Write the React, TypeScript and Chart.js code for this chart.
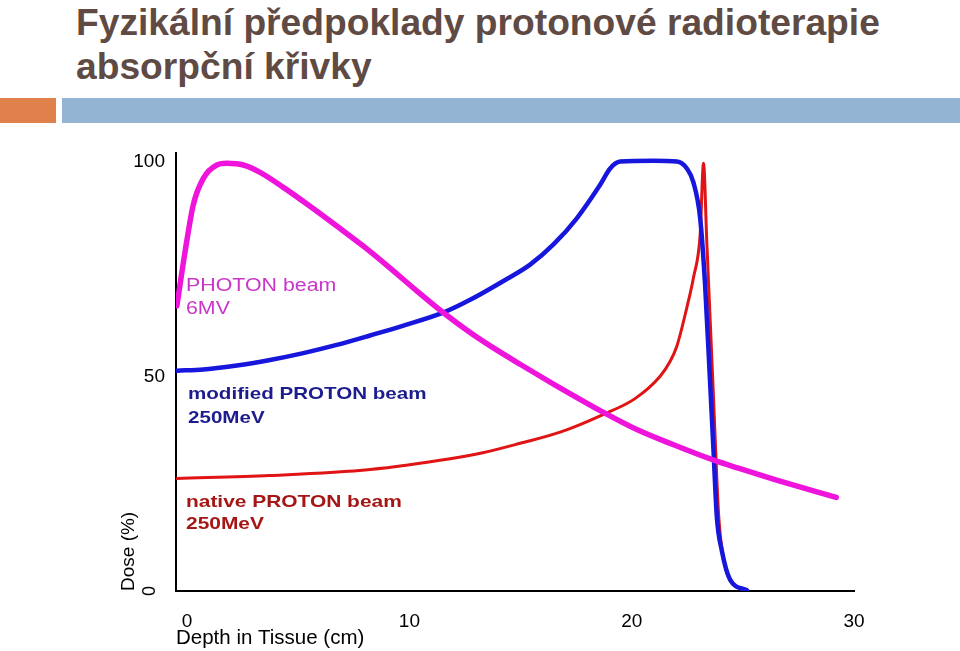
import React, { useEffect, useRef } from 'react';
import Chart from 'chart.js/auto';

const TITLE_LINES = ['Fyzikální předpoklady protonové radioterapie', 'absorpční křivky'];
const X_TITLE = 'Depth in Tissue (cm)';
const Y_TITLE = 'Dose (%)';
const X_TICKS = [0, 10, 20, 30];
const Y_TICKS = [0, 50, 100];
const X_MIN = -0.5;
const X_MAX = 30;
const Y_MIN = 0;
const Y_MAX = 102;

const SERIES_NAMES = ['PHOTON beam 6MV', 'modified PROTON beam 250MeV', 'native PROTON beam 250MeV'];
const PHOTON_LABEL = ['PHOTON beam', '6MV'];
const MODIFIED_LABEL = ['modified PROTON beam', '250MeV'];
const NATIVE_LABEL = ['native PROTON beam', '250MeV'];

const PHOTON_X = [-0.46, -0.09, 0.28, 0.73, 1.34, 1.79, 2.53, 3.28, 4.33, 5.53, 6.73, 7.93, 9.13, 10.33, 11.53, 12.73, 13.6, 14.98, 16.48, 18.73, 20.23, 21.91, 23.73, 24.8, 26.48, 29.2];
const PHOTON_Y = [66.4, 79.1, 90.0, 96.1, 99.2, 99.6, 99.2, 97.5, 94.0, 89.6, 85.0, 80.3, 75.2, 69.9, 64.8, 60.2, 57.2, 52.8, 48.2, 41.6, 37.6, 34.0, 30.4, 28.6, 25.9, 21.8];

const MODIFIED_X = [-0.46, 0.73, 2.24, 3.73, 5.23, 6.73, 8.23, 9.73, 11.6, 12.73, 14.23, 15.43, 16.48, 17.53, 18.58, 19.03, 19.48, 20.98, 22.03, 22.48, 22.78, 23.08, 23.3, 23.53, 23.68, 23.83, 24.05, 24.43, 25.18];
const MODIFIED_Y = [51.3, 51.6, 52.5, 53.8, 55.4, 57.3, 59.5, 61.8, 65.0, 67.8, 72.2, 76.0, 80.7, 86.8, 94.6, 98.4, 100.0, 100.2, 100.0, 98.4, 95.1, 86.8, 71.4, 48.2, 32.7, 17.2, 9.5, 2.6, 0.2];

const NATIVE_X = [-0.45, 3.73, 8.23, 11.83, 13.3, 14.98, 16.78, 18.71, 20.15, 21.28, 21.73, 22.03, 22.48, 22.78, 23.08, 23.23, 23.38, 23.53, 23.68, 23.83, 23.92, 24.1, 24.5, 25.2];
const NATIVE_Y = [26.2, 26.9, 28.3, 30.8, 32.2, 34.4, 37.0, 41.1, 44.8, 50.0, 53.5, 57.0, 66.0, 73.0, 83.0, 99.6, 81.0, 63.0, 45.0, 26.0, 17.0, 8.4, 2.1, 0.2];

const CANVAS_TOP = 130;
const FONT = '"Liberation Sans", Arial, Helvetica, sans-serif';

const toPoints = (xs: number[], ys: number[]) => xs.map((x, i) => ({ x, y: ys[i] }));

const drawStretched = (ctx: CanvasRenderingContext2D, text: string, x: number, y: number, font: string, color: string, sx: number) => {
  ctx.save();
  ctx.translate(x, y);
  ctx.scale(sx, 1);
  ctx.font = font;
  ctx.fillStyle = color;
  ctx.textAlign = 'left';
  ctx.textBaseline = 'alphabetic';
  ctx.fillText(text, 0, 0);
  ctx.restore();
};

const annotationPlugin = {
  id: 'curveLabels',
  afterDraw(chart: any) {
    const ctx: CanvasRenderingContext2D = chart.ctx;
    const left = chart.chartArea.left;
    const regular = `17.5px ${FONT}`;
    const bold = `bold 17px ${FONT}`;
    const magenta = '#c936c9';
    const navy = '#1c1c8e';
    const darkRed = '#a51616';
    drawStretched(ctx, PHOTON_LABEL[0], left + 10, 290.7 - CANVAS_TOP, regular, magenta, 1.22);
    drawStretched(ctx, PHOTON_LABEL[1], left + 10, 314 - CANVAS_TOP, regular, magenta, 1.22);
    drawStretched(ctx, MODIFIED_LABEL[0], left + 12, 399.3 - CANVAS_TOP, bold, navy, 1.21);
    drawStretched(ctx, MODIFIED_LABEL[1], left + 12, 423.3 - CANVAS_TOP, bold, navy, 1.21);
    drawStretched(ctx, NATIVE_LABEL[0], left + 10, 507.3 - CANVAS_TOP, bold, darkRed, 1.23);
    drawStretched(ctx, NATIVE_LABEL[1], left + 10, 529.3 - CANVAS_TOP, bold, darkRed, 1.23);

    // rotated zero tick label on the y axis
    const yScale = chart.scales.y;
    const y0 = yScale.getPixelForValue(Y_TICKS[0]);
    ctx.save();
    ctx.translate(left - 26, y0);
    ctx.rotate(-Math.PI / 2);
    ctx.font = `18px ${FONT}`;
    ctx.fillStyle = '#000';
    ctx.textAlign = 'center';
    ctx.textBaseline = 'middle';
    ctx.fillText(String(Y_TICKS[0]), 0, 0);
    ctx.restore();
  },
};

function DoseChart() {
  const ref = useRef<HTMLCanvasElement | null>(null);
  useEffect(() => {
    if (!ref.current) return;
    const chart = new Chart(ref.current, {
      type: 'line',
      data: {
        datasets: [
          {
            label: SERIES_NAMES[0],
            data: toPoints(PHOTON_X, PHOTON_Y),
            borderColor: '#ee14dc',
            borderWidth: 5.5,
            cubicInterpolationMode: 'monotone',
            borderCapStyle: 'round',
            borderJoinStyle: 'round',
            pointRadius: 0,
            fill: false,
          },
          {
            label: SERIES_NAMES[1],
            data: toPoints(MODIFIED_X, MODIFIED_Y),
            borderColor: '#1616dc',
            borderWidth: 4.5,
            cubicInterpolationMode: 'monotone',
            borderCapStyle: 'round',
            borderJoinStyle: 'round',
            pointRadius: 0,
            fill: false,
          },
          {
            label: SERIES_NAMES[2],
            data: toPoints(NATIVE_X, NATIVE_Y),
            borderColor: '#e01414',
            borderWidth: 3,
            cubicInterpolationMode: 'monotone',
            borderCapStyle: 'round',
            borderJoinStyle: 'miter',
            pointRadius: 0,
            fill: false,
          },
        ],
      },
      options: {
        responsive: false,
        animation: false,
        layout: { padding: { top: 23, right: 106, bottom: 0, left: 0 } },
        plugins: { legend: { display: false }, tooltip: { enabled: false } },
        scales: {
          x: {
            type: 'linear',
            min: X_MIN,
            max: X_MAX,
            afterBuildTicks: (s: any) => {
              s.ticks = X_TICKS.map((v) => ({ value: v }));
            },
            afterFit: (s: any) => {
              s.height = 60;
            },
            grid: { display: false, drawTicks: false },
            border: { display: true, color: '#000', width: 2 },
            ticks: {
              padding: 19,
              color: '#000',
              maxRotation: 0,
              autoSkip: false,
              font: { family: FONT, size: 19 },
            },
            title: {
              display: true,
              text: X_TITLE,
              align: 'start',
              color: '#000',
              font: { family: FONT, size: 20.5 },
              padding: { top: 0, bottom: 0 },
            },
          },
          y: {
            type: 'linear',
            min: Y_MIN,
            max: Y_MAX,
            afterBuildTicks: (s: any) => {
              s.ticks = Y_TICKS.map((v) => ({ value: v }));
            },
            afterFit: (s: any) => {
              s.width = 176;
            },
            grid: { display: false, drawTicks: false },
            border: { display: true, color: '#000', width: 2 },
            ticks: {
              padding: 11,
              color: '#000',
              font: { family: FONT, size: 19 },
              callback: (v: any) => (v === Y_TICKS[0] ? '' : String(v)),
            },
            title: {
              display: true,
              text: Y_TITLE,
              align: 'start',
              color: '#000',
              font: { family: FONT, size: 19 },
              padding: { top: 117, bottom: 0 },
            },
          },
        },
      },
      plugins: [annotationPlugin],
    } as any);
    return () => chart.destroy();
  }, []);
  return <canvas ref={ref} width={960} height={521} style={{ position: 'absolute', left: 0, top: CANVAS_TOP, width: 960, height: 521 }} />;
}

export default function App() {
  return (
    <div style={{ position: 'absolute', left: 0, top: 0, width: 960, height: 651, background: '#fff', overflow: 'hidden' }}>
      <div
        style={{
          position: 'absolute',
          left: 76,
          top: 0,
          fontFamily: FONT,
          fontWeight: 'bold',
          fontSize: 37.2,
          lineHeight: '44px',
          color: '#5f4b44',
          whiteSpace: 'nowrap',
        }}
      >
        {TITLE_LINES.map((t, i) => (
          <div key={i}>{t}</div>
        ))}
      </div>
      <div style={{ position: 'absolute', left: 0, top: 98, width: 56, height: 25, background: '#e0804a' }} />
      <div style={{ position: 'absolute', left: 62, top: 98, width: 898, height: 25, background: '#94b4d3' }} />
      <DoseChart />
    </div>
  );
}
